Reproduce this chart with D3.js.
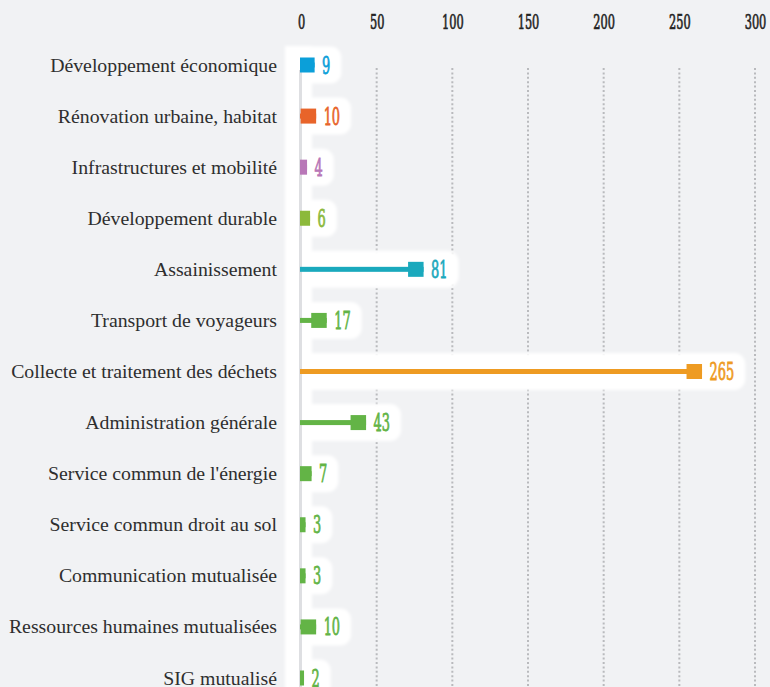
<!DOCTYPE html>
<html>
<head>
<meta charset="utf-8">
<script src="https://cdn.jsdelivr.net/npm/d3@7"></script>
<style>
  html, body { margin: 0; padding: 0; background: #f1f2f4; }
  svg { display: block; }
  .cat { font-family: "Liberation Serif", serif; font-size: 19.8px; fill: #2e2e2e; }
  .val { font-family: "DejaVu Serif Condensed", "DejaVu Serif", serif; font-size: 24px; stroke-width: 0.8px; }
  .axis text { font-family: "DejaVu Serif Condensed", "DejaVu Serif", serif; font-size: 21px; fill: #232323; stroke: #232323; stroke-width: 0.7px; }
</style>
</head>
<body>
<svg id="chart" width="770" height="687"></svg>
<script>
const categories = [
  'Développement économique',
  'Rénovation urbaine, habitat',
  'Infrastructures et mobilité',
  'Développement durable',
  'Assainissement',
  'Transport de voyageurs',
  'Collecte et traitement des déchets',
  'Administration générale',
  "Service commun de l'énergie",
  'Service commun droit au sol',
  'Communication mutualisée',
  'Ressources humaines mutualisées',
  'SIG mutualisé'
];
const values = [9, 10, 4, 6, 81, 17, 265, 43, 7, 3, 3, 10, 2];
const colors = ['#0b9fd9', '#e8642a', '#b877b7', '#8cb93b', '#1aa9bd', '#63b446',
                '#ee9b22', '#63b446', '#63b446', '#63b446', '#63b446', '#63b446', '#63b446'];
const ticks = [0, 50, 100, 150, 200, 250, 300];

const svg = d3.select('#chart');
const H = 687;
const squeeze = 0.6; // narrow the digits like the condensed face of the original

const x = d3.scaleLinear().domain([0, 300]).range([301, 755]);
const y = d3.scalePoint().domain(categories).range([65, 678]);

const rows = categories.map((c, i) => ({ cat: c, value: values[i], color: colors[i] }));

// soft white glow behind bars
const defs = svg.append('defs');
defs.append('filter').attr('id', 'soft')
  .attr('x', '-10%').attr('y', '-30%').attr('width', '120%').attr('height', '160%')
  .append('feGaussianBlur').attr('stdDeviation', 1.8);

// dotted grid
svg.append('g')
  .selectAll('line')
  .data(ticks.filter(t => t > 0))
  .enter()
  .append('line')
  .attr('x1', d => x(d)).attr('x2', d => x(d))
  .attr('y1', 68).attr('y2', H)
  .style('stroke', '#b9babd')
  .style('stroke-width', 2)
  .style('stroke-dasharray', '2 2.4');

// axis
const axis = svg.append('g')
  .attr('class', 'axis')
  .attr('transform', 'translate(0,29)')
  .call(d3.axisTop(x).tickValues(ticks).tickSize(0).tickPadding(0));
axis.select('.domain').remove();
axis.selectAll('text').attr('transform', `scale(${squeeze},1)`);

const glow = svg.append('g').attr('filter', 'url(#soft)');
glow.append('rect')
  .attr('x', 285).attr('y', 46)
  .attr('width', 27).attr('height', H)
  .style('fill', '#fff');

// zero line
svg.append('line')
  .attr('x1', x(0) - 0.5).attr('x2', x(0) - 0.5)
  .attr('y1', 70).attr('y2', H)
  .style('stroke', '#dedfe2')
  .style('stroke-width', 3);

const row = svg.selectAll('g.row')
  .data(rows)
  .enter()
  .append('g')
  .classed('row', true);

// value labels first so their width is known
const valText = row.append('text')
  .classed('val', true)
  .text(d => d.value)
  .style('fill', d => d.color)
  .style('stroke', d => d.color)
  .attr('transform', d => `translate(${x(d.value) + 7.5},${y(d.cat) + 8.5}) scale(${squeeze},1)`);

rows.forEach((d, i) => {
  d.labelEnd = x(d.value) + 7.5 + valText.nodes()[i].getComputedTextLength() * squeeze;
});

glow.selectAll('rect.blob')
  .data(rows)
  .enter()
  .append('rect')
  .classed('blob', true)
  .attr('x', 290)
  .attr('y', d => y(d.cat) - 18.5)
  .attr('width', d => d.labelEnd + 11 - 290)
  .attr('height', 37)
  .attr('rx', 11)
  .style('fill', '#fff');

row.append('rect')
  .attr('x', x(0) - 1)
  .attr('y', d => y(d.cat) - 2.5)
  .attr('width', d => x(d.value) - x(0) + 1)
  .attr('height', 5)
  .style('fill', d => d.color);

row.append('rect')
  .attr('x', d => Math.max(x(0) - 1, x(d.value) - 15.5))
  .attr('y', d => y(d.cat) - 7.5)
  .attr('width', d => x(d.value) - Math.max(x(0) - 1, x(d.value) - 15.5))
  .attr('height', 15)
  .style('fill', d => d.color);

row.select('text.val').raise();

svg.append('g')
  .selectAll('text')
  .data(rows)
  .enter()
  .append('text')
  .classed('cat', true)
  .attr('x', 277)
  .attr('y', d => y(d.cat))
  .attr('dy', '6.5px')
  .attr('text-anchor', 'end')
  .text(d => d.cat);
</script>
</body>
</html>
